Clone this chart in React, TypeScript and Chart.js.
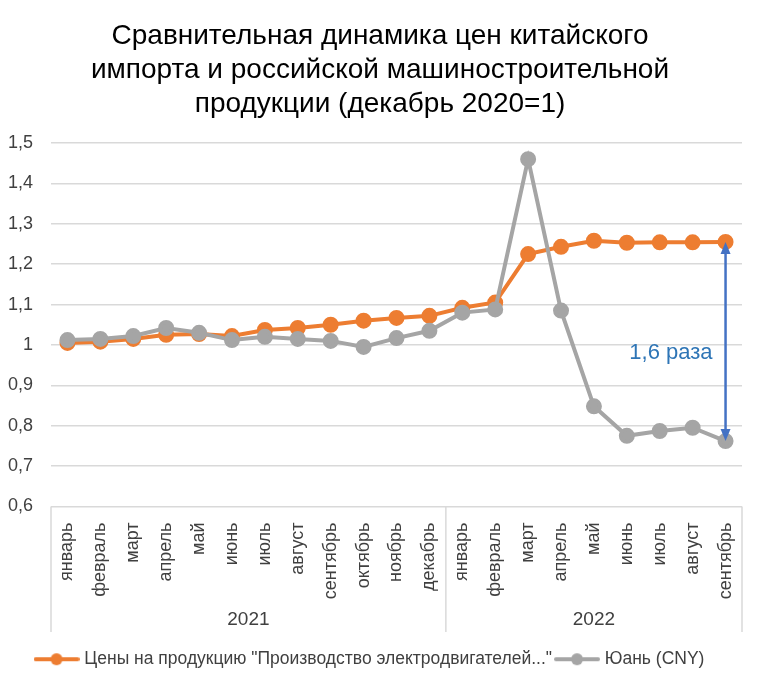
import React, { useEffect, useRef } from "react";
import { Chart, registerables } from "chart.js";

Chart.register(...registerables);

const titleLines = [
  "Сравнительная динамика цен китайского",
  "импорта и российской машиностроительной",
  "продукции (декабрь 2020=1)",
];

const months = [
  "январь", "февраль", "март", "апрель", "май", "июнь", "июль", "август",
  "сентябрь", "октябрь", "ноябрь", "декабрь",
  "январь", "февраль", "март", "апрель", "май", "июнь", "июль", "август", "сентябрь",
];

const years = ["2021", "2022"];
const yearCounts = [12, 9];

const seriesNames = [
  "Цены на продукцию \"Производство электродвигателей...\"",
  "Юань (CNY)",
];

const motorPrices = [
  1.005, 1.008, 1.015, 1.025, 1.027, 1.022, 1.037, 1.042, 1.05, 1.06, 1.067, 1.072,
  1.092, 1.105, 1.225, 1.243, 1.258, 1.253, 1.254, 1.254, 1.255,
];

const cnyRate = [
  1.012, 1.015, 1.022, 1.042, 1.03, 1.012, 1.02, 1.015, 1.01, 0.995, 1.017, 1.035,
  1.08, 1.088, 1.46, 1.085, 0.848, 0.775, 0.787, 0.795, 0.762,
];

const annotationText = "1,6 раза";

const NARROW = '"Liberation Sans Narrow", "Liberation Sans", Arial, sans-serif';
const SANS = '"Liberation Sans", Arial, sans-serif';
const ORANGE = "#ED7D31";
const GRAY = "#A5A5A5";

function makeLegendIcon(color: string): HTMLCanvasElement {
  const c = document.createElement("canvas");
  c.width = 46;
  c.height = 14;
  const ctx = c.getContext("2d")!;
  ctx.strokeStyle = color;
  ctx.lineWidth = 4;
  ctx.lineCap = "round";
  ctx.beginPath();
  ctx.moveTo(2, 7);
  ctx.lineTo(44, 7);
  ctx.stroke();
  ctx.fillStyle = color;
  ctx.beginPath();
  ctx.arc(23, 7, 6, 0, Math.PI * 2);
  ctx.fill();
  return c;
}

const overlayPlugin = {
  id: "overlay",
  afterDraw(chart: any) {
    const ctx = chart.ctx as CanvasRenderingContext2D;
    const area = chart.chartArea;
    const xs = chart.scales.x;
    const ys = chart.scales.y;
    ctx.save();

    // title
    ctx.fillStyle = "#000000";
    ctx.font = `28px ${NARROW}`;
    ctx.textAlign = "center";
    ctx.textBaseline = "middle";
    titleLines.forEach((line, i) => {
      ctx.fillText(line, 380, 36 + i * 34);
    });

    // year groups
    const groupBottom = 632;
    ctx.strokeStyle = "#D9D9D9";
    ctx.lineWidth = 1.5;
    let start = 0;
    const bounds: number[] = [area.left];
    years.forEach((yr, gi) => {
      const end = start + yearCounts[gi] - 1;
      const left = gi === 0 ? area.left : (xs.getPixelForValue(start - 1) + xs.getPixelForValue(start)) / 2;
      const right = gi === years.length - 1 ? area.right : (xs.getPixelForValue(end) + xs.getPixelForValue(end + 1)) / 2;
      bounds.push(right);
      ctx.fillStyle = "#404040";
      ctx.font = `19px ${NARROW}`;
      ctx.textAlign = "center";
      ctx.textBaseline = "middle";
      ctx.fillText(yr, (left + right) / 2, 620);
      start = end + 1;
    });
    bounds.forEach((bx) => {
      ctx.beginPath();
      ctx.moveTo(bx, area.bottom);
      ctx.lineTo(bx, groupBottom);
      ctx.stroke();
    });

    // annotation arrow
    const last = months.length - 1;
    const ax = xs.getPixelForValue(last);
    const y1 = ys.getPixelForValue(motorPrices[last]);
    const y2 = ys.getPixelForValue(cnyRate[last]);
    ctx.strokeStyle = "#4472C4";
    ctx.fillStyle = "#4472C4";
    ctx.lineWidth = 2.5;
    const head = 11;
    ctx.beginPath();
    ctx.moveTo(ax, y1 + head);
    ctx.lineTo(ax, y2 - head);
    ctx.stroke();
    ctx.beginPath();
    ctx.moveTo(ax, y1);
    ctx.lineTo(ax - 5, y1 + head + 1);
    ctx.lineTo(ax + 5, y1 + head + 1);
    ctx.closePath();
    ctx.fill();
    ctx.beginPath();
    ctx.moveTo(ax, y2);
    ctx.lineTo(ax - 5, y2 - head - 1);
    ctx.lineTo(ax + 5, y2 - head - 1);
    ctx.closePath();
    ctx.fill();

    ctx.fillStyle = "#2E75B6";
    ctx.font = `22px ${SANS}`;
    ctx.textAlign = "right";
    ctx.textBaseline = "middle";
    ctx.fillText(annotationText, ax - 13, ys.getPixelForValue(0.98));

    ctx.restore();
  },
};

export default function App() {
  const canvasRef = useRef<HTMLCanvasElement | null>(null);

  useEffect(() => {
    document.body.style.margin = "0";
    const canvas = canvasRef.current;
    if (!canvas) return;
    const icons = [makeLegendIcon(ORANGE), makeLegendIcon(GRAY)];
    const chart = new Chart(canvas, {
      type: "line",
      data: {
        labels: months,
        datasets: [
          {
            label: seriesNames[0],
            data: motorPrices,
            borderColor: ORANGE,
            backgroundColor: ORANGE,
            borderWidth: 4,
            pointRadius: 6,
            pointHoverRadius: 6,
            pointBackgroundColor: ORANGE,
            pointBorderColor: ORANGE,
            order: 1,
          },
          {
            label: seriesNames[1],
            data: cnyRate,
            borderColor: GRAY,
            backgroundColor: GRAY,
            borderWidth: 4,
            pointRadius: 6,
            pointHoverRadius: 6,
            pointBackgroundColor: GRAY,
            pointBorderColor: GRAY,
            order: 0,
          },
        ],
      },
      options: {
        responsive: false,
        animation: false,
        devicePixelRatio: 1,
        layout: { padding: { top: 143, right: 17, left: 0, bottom: 4 } },
        plugins: {
          title: { display: false },
          tooltip: { enabled: false },
          legend: {
            position: "bottom",
            labels: {
              usePointStyle: true,
              pointStyleWidth: 38,
              padding: 6,
              color: "#404040",
              font: { family: NARROW, size: 17.5 },
              generateLabels: (ch: any) =>
                ch.data.datasets.map((ds: any, i: number) => ({
                  text: ds.label,
                  fillStyle: ds.borderColor,
                  strokeStyle: ds.borderColor,
                  lineWidth: 0,
                  hidden: false,
                  datasetIndex: i,
                  pointStyle: icons[i],
                  fontColor: "#404040",
                })),
            },
          },
        },
        scales: {
          x: {
            offset: true,
            grid: { display: false, offset: true },
            border: { display: false },
            ticks: {
              autoSkip: false,
              maxRotation: 90,
              minRotation: 90,
              padding: 8,
              color: "#404040",
              font: { family: SANS, size: 18 },
            },
            afterFit: (s: any) => {
              s.height = 138;
            },
          },
          y: {
            min: 0.6,
            max: 1.5,
            border: { display: false },
            grid: { color: "#D9D9D9", lineWidth: 1.5, drawTicks: false },
            ticks: {
              stepSize: 0.1,
              padding: 18,
              color: "#404040",
              font: { family: SANS, size: 18 },
              callback: (v: any) => String(Number(Number(v).toFixed(1))).replace(".", ","),
            },
            afterFit: (s: any) => {
              s.width = 51;
            },
          },
        },
      },
      plugins: [overlayPlugin],
    });
    return () => chart.destroy();
  }, []);

  return <canvas ref={canvasRef} width={759} height={682} style={{ display: "block" }} />;
}
